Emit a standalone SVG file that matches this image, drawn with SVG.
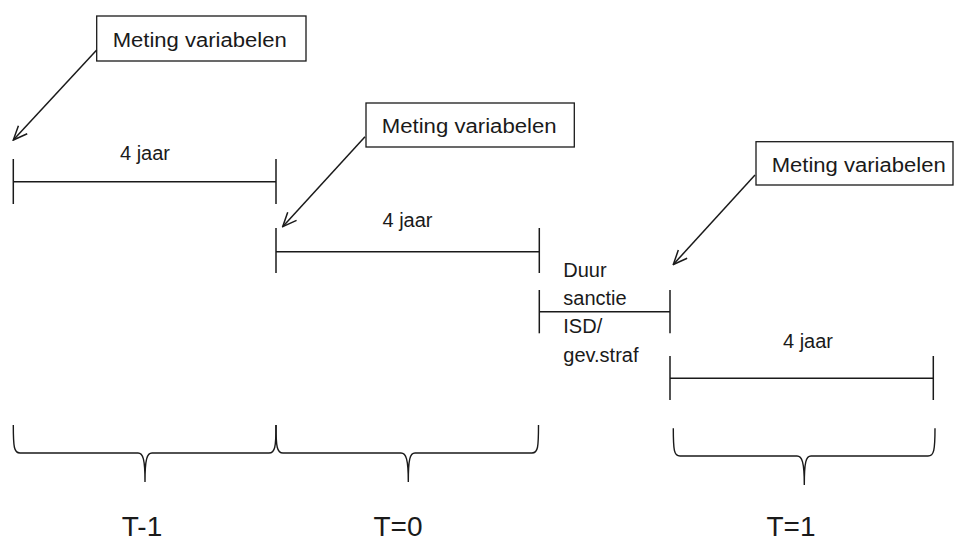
<svg xmlns="http://www.w3.org/2000/svg" width="954" height="543" viewBox="0 0 954 543">
<defs>
<style>
.box{fill:#fff;stroke:#1a1a1a;stroke-width:1.3}
.ln{fill:none;stroke:#1a1a1a;stroke-width:1.5}
.br{fill:none;stroke:#1a1a1a;stroke-width:1.4}
.t{font-family:"Liberation Sans",Arial,sans-serif;font-size:20px;fill:#1a1a1a}
.big{font-family:"Liberation Sans",Arial,sans-serif;font-size:28px;fill:#1a1a1a;text-anchor:middle}
</style>
<marker id="ah" markerUnits="userSpaceOnUse" markerWidth="16" markerHeight="14" viewBox="0 0 16 14" refX="15" refY="7" orient="auto">
<path d="M1,1 L15,7 L1,13" fill="none" stroke="#1a1a1a" stroke-width="1.5"/>
</marker>
</defs>
<rect width="954" height="543" fill="#fff"/>

<g id="box1">
<rect class="box" x="96.7" y="16" width="209.3" height="45"/>
<text class="t" x="112.7" y="47" textLength="174" lengthAdjust="spacingAndGlyphs">Meting variabelen</text>
</g>
<g id="box2">
<rect class="box" x="366" y="103" width="208.3" height="44"/>
<text class="t" x="381.7" y="133" textLength="175" lengthAdjust="spacingAndGlyphs">Meting variabelen</text>
</g>
<g id="box3">
<rect class="box" x="756" y="141.7" width="197" height="43.3"/>
<text class="t" x="771.7" y="171.7" textLength="174" lengthAdjust="spacingAndGlyphs">Meting variabelen</text>
</g>

<g id="period1">
<line class="ln" x1="13.3" y1="181.7" x2="276" y2="181.7"/>
<line class="ln" x1="13.3" y1="159" x2="13.3" y2="204"/>
<line class="ln" x1="276" y1="159" x2="276" y2="204"/>
<text class="t" x="145" y="160" text-anchor="middle">4 jaar</text>
</g>
<g id="period2">
<line class="ln" x1="276" y1="251.7" x2="539.3" y2="251.7"/>
<line class="ln" x1="276" y1="228" x2="276" y2="273"/>
<line class="ln" x1="539.3" y1="228" x2="539.3" y2="273"/>
<text class="t" x="407.5" y="227" text-anchor="middle">4 jaar</text>
</g>
<g id="sanctie">
<line class="ln" x1="539.3" y1="311.7" x2="670" y2="311.7"/>
<line class="ln" x1="539.3" y1="290" x2="539.3" y2="333.3"/>
<line class="ln" x1="670" y1="290" x2="670" y2="333.3"/>
<text class="t" x="563.3" y="276.7">Duur</text>
<text class="t" x="563.3" y="305">sanctie</text>
<text class="t" x="563.3" y="333">ISD/</text>
<text class="t" x="563.3" y="361.7">gev.straf</text>
</g>
<g id="period3">
<line class="ln" x1="670" y1="378.3" x2="933.3" y2="378.3"/>
<line class="ln" x1="670" y1="356" x2="670" y2="400"/>
<line class="ln" x1="933.3" y1="356" x2="933.3" y2="400"/>
<text class="t" x="808" y="348.3" text-anchor="middle">4 jaar</text>
</g>

<g id="brace1">
<path class="br" d="M13.3,425 C13.3,447 14,453 20,453 L138,453 C143,453 145,459 145,482 C145,459 147,453 152,453 L269,453 C275,453 276,447 276,425"/>
<text class="big" x="142" y="536">T-1</text>
</g>
<g id="brace2">
<path class="br" d="M276,425 C276,447 277,453 283,453 L401,453 C406,453 408.3,459 408.3,482 C408.3,459 410,453 415,453 L532,453 C538,453 538.5,447 538.5,425"/>
<text class="big" x="398" y="536">T=0</text>
</g>
<g id="brace3">
<path class="br" d="M673.3,428.3 C673.3,450 674,456 680,456 L797,456 C802,456 804.3,462 804.3,485 C804.3,462 806,456 811,456 L928,456 C934,456 935,450 935,428.3"/>
<text class="big" x="791" y="536">T=1</text>
</g>

<g id="connectors">
<line class="ln" x1="96.7" y1="50" x2="13.3" y2="140" marker-end="url(#ah)"/>
<line class="ln" x1="365" y1="136.7" x2="282.7" y2="226.7" marker-end="url(#ah)"/>
<line class="ln" x1="755" y1="175" x2="673.3" y2="264.5" marker-end="url(#ah)"/>
</g>
</svg>
